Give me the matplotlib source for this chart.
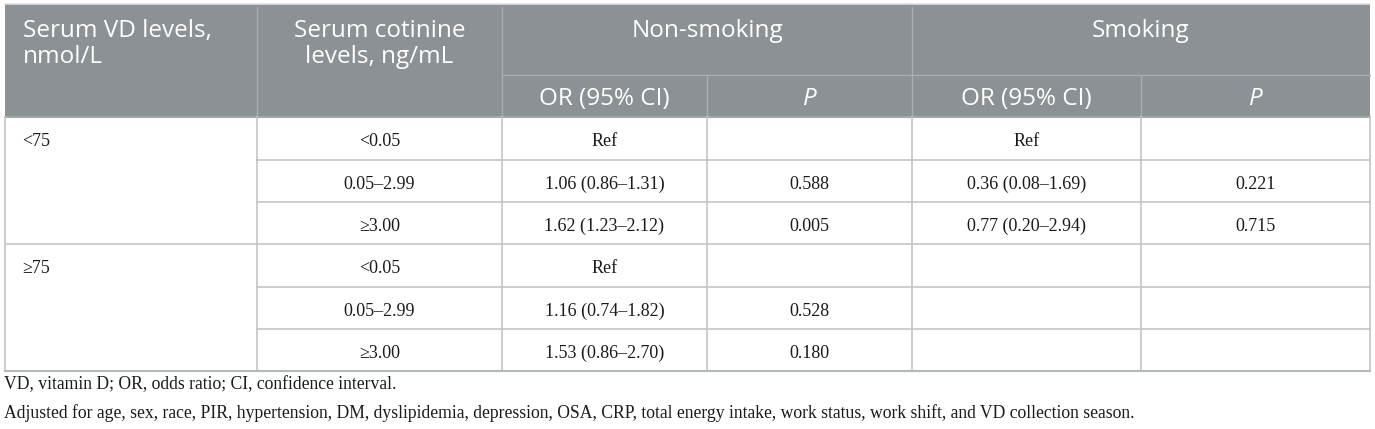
import matplotlib.pyplot as plt

vd_levels = ['<75', '≥75']
cotinine = ['<0.05', '0.05–2.99', '≥3.00', '<0.05', '0.05–2.99', '≥3.00']
nonsmk_or = ['Ref', '1.06 (0.86–1.31)', '1.62 (1.23–2.12)',
             'Ref', '1.16 (0.74–1.82)', '1.53 (0.86–2.70)']
nonsmk_p = ['', '0.588', '0.005', '', '0.528', '0.180']
smk_or = ['Ref', '0.36 (0.08–1.69)', '0.77 (0.20–2.94)', '', '', '']
smk_p = ['', '0.221', '0.715', '', '', '']
footnotes = [
    'VD, vitamin D; OR, odds ratio; CI, confidence interval.',
    'Adjusted for age, sex, race, PIR, hypertension, DM, dyslipidemia, depression, '
    'OSA, CRP, total energy intake, work status, work shift, and VD collection season.',
]

W, H = 1375, 429
fig = plt.figure(figsize=(W / 100, H / 100), dpi=100)
ax = fig.add_axes([0, 0, 1, 1])
ax.set_xlim(0, W)
ax.set_ylim(H, 0)
ax.axis('off')

cols = [5, 257, 502, 707, 912, 1141, 1370]
top, sub, head_bot = 4, 75, 117
rows = [117, 160, 202, 244, 287, 329, 371]

hdr_bg = '#8b9194'
hdr_line = '#a9aeb1'
body_line = '#c4c6c5'
hfont = dict(family='Open Sans', color='white', fontsize=17.5)
bfont = dict(family='Liberation Serif', color='#1a1a1a', fontsize=13)
ffont = dict(family='Liberation Serif', color='#1a1a1a', fontsize=12.7)

# header block
ax.add_patch(plt.Rectangle((cols[0], top), cols[-1] - cols[0], head_bot - top,
                           facecolor=hdr_bg, edgecolor='none'))
ax.plot([cols[0], cols[-1]], [top, top], color='#dde0dd', lw=1.2)
for x in cols[1:-1]:
    y0 = top + 3 if x in (257, 502, 912) else sub
    ax.plot([x, x], [y0, head_bot], color=hdr_line, lw=1)
ax.plot([cols[2], cols[-1]], [sub, sub], color=hdr_line, lw=1)
ax.plot([cols[0], cols[-1]], [head_bot, head_bot], color='#a3a9a7', lw=1.5)

ax.text(23, 37, 'Serum VD levels,', ha='left', va='baseline', **hfont)
ax.text(23, 63, 'nmol/L', ha='left', va='baseline', **hfont)
ax.text((cols[1] + cols[2]) / 2, 37, 'Serum cotinine', ha='center', va='baseline', **hfont)
ax.text((cols[1] + cols[2]) / 2, 63, 'levels, ng/mL', ha='center', va='baseline', **hfont)
ax.text((cols[2] + cols[4]) / 2, 37, 'Non-smoking', ha='center', va='baseline', **hfont)
ax.text((cols[4] + cols[6]) / 2, 37, 'Smoking', ha='center', va='baseline', **hfont)
for i, lab in zip(range(2, 6), ['OR (95% CI)', 'P', 'OR (95% CI)', 'P']):
    ax.text((cols[i] + cols[i + 1]) / 2, 105, lab, ha='center', va='baseline',
            style='italic' if lab == 'P' else 'normal', **hfont)

# body grid
for y in rows[1:]:
    x0 = cols[0] if y in (244, 371) else cols[1]
    ax.plot([x0, cols[-1]], [y, y], color=body_line, lw=1.2)
for x in cols:
    ax.plot([x, x], [head_bot, rows[-1]], color=body_line, lw=1.2)
ax.plot([cols[0], cols[-1]], [rows[-1], rows[-1]], color='#b3b9b5', lw=1.5)

# body text
for g, lab in enumerate(vd_levels):
    r = g * 3
    ax.text(22, rows[r] + 29, lab, ha='left', va='baseline', **bfont)
for r in range(6):
    yb = rows[r] + 29
    for i, col in enumerate([cotinine, nonsmk_or, nonsmk_p, smk_or, smk_p]):
        if col[r]:
            ax.text((cols[i + 1] + cols[i + 2]) / 2, yb, col[r], ha='center',
                    va='baseline', **bfont)

ax.text(4, 389, footnotes[0], ha='left', va='baseline', **ffont)
ax.text(4, 418, footnotes[1], ha='left', va='baseline', **ffont)

fig.savefig('out.png', dpi=100, facecolor='white')
